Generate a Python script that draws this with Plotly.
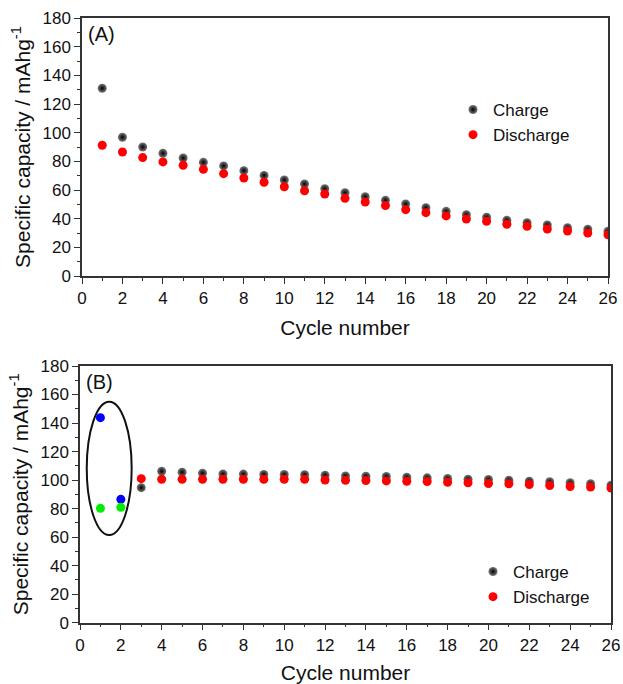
import plotly.graph_objects as go
from plotly.subplots import make_subplots

# ---------- data ----------
cycles_a = list(range(1, 27))
charge_a = [131, 96.8, 90, 85.6, 82.3, 79.3, 76.8, 73.5, 70.2, 67, 64.2,
            60.9, 58.1, 55.3, 52.8, 50.2, 47.7, 45.1, 42.8, 41, 38.9, 37.2,
            35.6, 33.7, 32.6, 31.2]
discharge_a = [91.2, 86.5, 82.6, 79.6, 77.2, 74.4, 71.4, 68.4, 65.4, 62.3,
               59.5, 57.2, 54.2, 51.6, 49.1, 46.3, 44.2, 41.9, 39.8, 38.2,
               36.1, 34.7, 32.8, 31.4, 30, 28.8]

cycles_b = list(range(3, 27))
charge_b = [94.7, 106.2, 105.5, 104.8, 104.3, 104.2, 104, 103.9, 103.8,
            103.4, 102.9, 102.7, 102.5, 102, 101.6, 101.1, 100.6, 100.4,
            99.9, 99.2, 98.8, 98.1, 97.4, 96.4]
discharge_b = [101, 100.6, 100.6, 100.6, 100.6, 100.6, 100.6, 100.6, 100.6,
               100.1, 99.9, 99.7, 99.4, 99.2, 99, 98.5, 98.1, 97.6, 97.4,
               96.9, 96.2, 95.5, 95.1, 94.4]
cycles_first = [1, 2]
blue_b = [143.8, 86.5]
green_b = [80.2, 80.9]

# ellipse bounds (data units) around first two cycles in panel B
ellipse_x = [0.33, 2.53]
ellipse_y = [61.5, 155]

W, H = 623, 684
FONT = "Liberation Sans, Arial, sans-serif"

fig = make_subplots(rows=2, cols=1)

ball = dict(size=9, color="#7a7a7a", gradient=dict(type="radial", color="#000000"),
            line=dict(width=0))
red = dict(size=9, color="#ff0000", line=dict(width=0))

fig.add_trace(go.Scatter(x=cycles_a, y=charge_a, mode="markers", name="Charge",
                         marker=ball, legend="legend"), row=1, col=1)
fig.add_trace(go.Scatter(x=cycles_a, y=discharge_a, mode="markers", name="Discharge",
                         marker=red, legend="legend"), row=1, col=1)

fig.add_trace(go.Scatter(x=cycles_b, y=charge_b, mode="markers", name="Charge",
                         marker=ball, legend="legend2"), row=2, col=1)
fig.add_trace(go.Scatter(x=cycles_b, y=discharge_b, mode="markers", name="Discharge",
                         marker=red, legend="legend2"), row=2, col=1)
fig.add_trace(go.Scatter(x=cycles_first, y=blue_b, mode="markers", showlegend=False,
                         marker=dict(size=9, color="#0000ff")), row=2, col=1)
fig.add_trace(go.Scatter(x=cycles_first, y=green_b, mode="markers", showlegend=False,
                         marker=dict(size=9, color="#00ee00")), row=2, col=1)

axis_common = dict(
    showgrid=False, zeroline=False, showline=True, linecolor="#333333", linewidth=1.5,
    mirror=True, ticks="outside", ticklen=6, tickwidth=1.2, tickcolor="#333333",
    tickfont=dict(family=FONT, size=17, color="#111111"), automargin=False,
)

def xaxis_common(standoff):
    return dict(axis_common, range=[0, 26], dtick=2, tick0=0,
                minor=dict(ticks="outside", ticklen=3, dtick=1, tickcolor="#333333", tickwidth=1.2),
                title=dict(text="Cycle number", font=dict(family=FONT, size=21, color="#111111"),
                           standoff=standoff))

yaxis_common = dict(axis_common, range=[0, 180], dtick=20, tick0=0,
                    minor=dict(ticks="outside", ticklen=3, dtick=10, tickcolor="#333333", tickwidth=1.2),
                    title=dict(text="Specific capacity / mAhg<sup>-1</sup>",
                               font=dict(family=FONT, size=21, color="#111111"), standoff=6))

fig.update_layout(
    width=W, height=H, margin=dict(l=0, r=0, t=0, b=0, autoexpand=False),
    paper_bgcolor="white", plot_bgcolor="white",
    font=dict(family=FONT, color="#111111"),
    xaxis=dict(xaxis_common(13), domain=[82 / W, 608 / W], anchor="y"),
    yaxis=dict(yaxis_common, domain=[1 - 276 / H, 1 - 18 / H], anchor="x"),
    xaxis2=dict(xaxis_common(16), domain=[80 / W, 611 / W], anchor="y2"),
    yaxis2=dict(yaxis_common, domain=[1 - 622.7 / H, 1 - 366 / H], anchor="x2"),
    legend=dict(x=453 / W, y=1 - 92 / H, xanchor="left", yanchor="top",
                font=dict(family=FONT, size=17, color="#111111"),
                bgcolor="rgba(0,0,0,0)", itemwidth=30, tracegroupgap=0),
    legend2=dict(x=473 / W, y=1 - 554 / H, xanchor="left", yanchor="top",
                 font=dict(family=FONT, size=17, color="#111111"),
                 bgcolor="rgba(0,0,0,0)", itemwidth=30, tracegroupgap=0),
    showlegend=True,
)

fig.add_annotation(text="(A)", xref="x domain", yref="y domain", x=0.008, y=0.99,
                   xanchor="left", yanchor="top", showarrow=False,
                   font=dict(family=FONT, size=20, color="#111111"))
fig.add_annotation(text="(B)", xref="x2 domain", yref="y2 domain", x=0.008, y=0.99,
                   xanchor="left", yanchor="top", showarrow=False,
                   font=dict(family=FONT, size=20, color="#111111"))

fig.add_shape(type="circle", xref="x2", yref="y2",
              x0=ellipse_x[0], x1=ellipse_x[1], y0=ellipse_y[0], y1=ellipse_y[1],
              line=dict(color="#111111", width=2))

fig.write_html("out.html", config={"displayModeBar": False},
               post_script="document.body.style.margin='0';")
